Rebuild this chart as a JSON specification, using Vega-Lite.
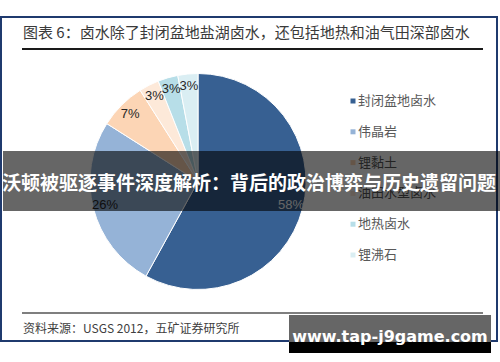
{
  "$schema": "https://vega.github.io/schema/vega-lite/v6.json",
  "width": 496,
  "height": 324,
  "autosize": {"type": "none"},
  "padding": {"left": 1, "top": 17, "right": 3, "bottom": 21},
  "background": "white",
  "config": {"view": {"stroke": "#1F3A6E", "strokeWidth": 2, "fill": "white"}},
  "title": {
    "text": "图表 6：卤水除了封闭盆地盐湖卤水，还包括地热和油气田深部卤水",
    "anchor": "start",
    "frame": "group",
    "orient": "top",
    "offset": -24,
    "dx": 22,
    "font": "Noto Sans CJK SC",
    "fontSize": 15,
    "fontWeight": "normal",
    "color": "#3A3A3A"
  },
  "data": {
    "values": [
      {"type": "封闭盆地卤水", "pct": 0.58, "rank": 1},
      {"type": "伟晶岩", "pct": 0.26, "rank": 2},
      {"type": "锂黏土", "pct": 0.07, "rank": 3},
      {"type": "油田水型卤水", "pct": 0.03, "rank": 4},
      {"type": "地热卤水", "pct": 0.03, "rank": 5},
      {"type": "锂沸石", "pct": 0.03, "rank": 6}
    ]
  },
  "layer": [
    {
      "mark": {"type": "arc", "outerRadius": 108, "stroke": "#FFFFFF", "strokeWidth": 1},
      "encoding": {
        "theta": {"field": "pct", "type": "quantitative", "stack": true},
        "order": {"field": "rank", "type": "quantitative"},
        "color": {
          "field": "type", "type": "nominal",
          "scale": {"domain": ["封闭盆地卤水", "伟晶岩", "锂黏土", "油田水型卤水", "地热卤水", "锂沸石"],
                    "range": ["#376092", "#95B3D7", "#FCD5B5", "#FDE9D9", "#B7DEE8", "#DAEEF3"]},
          "legend": null
        },
        "x": {"value": 197},
        "y": {"value": 164.5}
      }
    },
    {
      "mark": {"type": "text", "radius": 96, "fontSize": 13, "font": "Liberation Sans"},
      "encoding": {
        "theta": {"field": "pct", "type": "quantitative", "stack": true},
        "order": {"field": "rank", "type": "quantitative"},
        "detail": {"field": "type", "type": "nominal"},
        "text": {"field": "pct", "type": "quantitative", "format": ".0%"},
        "color": {"condition": {"test": "datum.pct > 0.5", "value": "#FFFFFF"}, "value": "#262626"},
        "x": {"value": 197},
        "y": {"value": 164.5}
      }
    },
    {
      "mark": {"type": "square", "size": 25, "opacity": 1},
      "encoding": {
        "y": {"field": "type", "type": "nominal",
              "scale": {"type": "point", "domain": ["封闭盆地卤水", "伟晶岩", "锂黏土", "油田水型卤水", "地热卤水", "锂沸石"], "range": [84, 238], "padding": 0},
              "axis": null},
        "x": {"value": 352},
        "color": {
          "field": "type", "type": "nominal",
          "scale": {"domain": ["封闭盆地卤水", "伟晶岩", "锂黏土", "油田水型卤水", "地热卤水", "锂沸石"],
                    "range": ["#376092", "#95B3D7", "#FCD5B5", "#FDE9D9", "#B7DEE8", "#DAEEF3"]},
          "legend": null
        }
      }
    },
    {
      "mark": {"type": "text", "align": "left", "baseline": "middle", "fontSize": 13, "font": "Noto Sans CJK SC", "color": "#595959"},
      "encoding": {
        "y": {"field": "type", "type": "nominal",
              "scale": {"type": "point", "domain": ["封闭盆地卤水", "伟晶岩", "锂黏土", "油田水型卤水", "地热卤水", "锂沸石"], "range": [84, 238], "padding": 0},
              "axis": null},
        "x": {"value": 357},
        "text": {"field": "type", "type": "nominal"}
      }
    },
    {
      "data": {"values": [{"t": "title rule"}]},
      "mark": {"type": "rule", "color": "#1A1A1A", "strokeWidth": 2},
      "encoding": {"x": {"value": 21}, "x2": {"value": 482}, "y": {"value": 32}}
    },
    {
      "data": {"values": [{"t": "footer rule"}]},
      "mark": {"type": "rule", "color": "#555555", "strokeWidth": 1.5},
      "encoding": {"x": {"value": 21}, "x2": {"value": 482}, "y": {"value": 296}}
    },
    {
      "data": {"values": [{"t": "资料来源：USGS 2012，五矿证券研究所"}]},
      "mark": {"type": "text", "align": "left", "baseline": "middle", "fontSize": 12, "font": "Noto Sans CJK SC", "color": "#404040"},
      "encoding": {"x": {"value": 22}, "y": {"value": 312}, "text": {"field": "t", "type": "nominal"}}
    },
    {
      "data": {"values": [{"t": "banner"}]},
      "mark": {"type": "rect", "color": "#000000", "opacity": 0.6},
      "encoding": {"x": {"value": 2}, "x2": {"value": 499}, "y": {"value": 134}, "y2": {"value": 194}}
    },
    {
      "data": {"values": [{"t": "沃顿被驱逐事件深度解析：背后的政治博弈与历史遗留问题"}]},
      "mark": {"type": "text", "align": "center", "baseline": "middle", "fontSize": 19, "fontWeight": "bold", "font": "Noto Sans CJK SC", "color": "#FFFFFF"},
      "encoding": {"x": {"value": 248}, "y": {"value": 167}, "text": {"field": "t", "type": "nominal"}}
    },
    {
      "data": {"values": [{"t": "watermark"}]},
      "mark": {"type": "rect", "color": "#666666", "opacity": 1},
      "encoding": {"x": {"value": 288}, "x2": {"value": 490}, "y": {"value": 298}, "y2": {"value": 325}}
    },
    {
      "data": {"values": [{"t": "watermark base"}]},
      "mark": {"type": "rect", "color": "#000000", "opacity": 1},
      "encoding": {"x": {"value": 288}, "x2": {"value": 490}, "y": {"value": 325}, "y2": {"value": 336}}
    },
    {
      "data": {"values": [{"t": "www.tap-j9game.com"}]},
      "mark": {"type": "text", "align": "center", "baseline": "alphabetic", "fontSize": 16, "fontWeight": "bold", "font": "DejaVu Sans", "color": "#FFFFFF"},
      "encoding": {"x": {"value": 389}, "y": {"value": 325}, "text": {"field": "t", "type": "nominal"}}
    }
  ]
}
